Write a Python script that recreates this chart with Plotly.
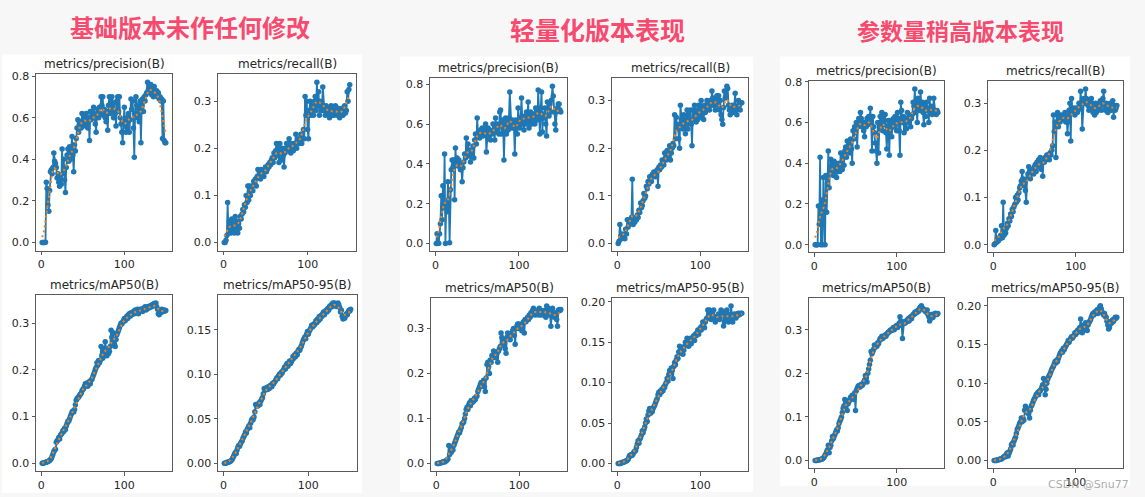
import numpy as np
import plotly.graph_objects as go

W, H = 1145, 497

# ---------------- data ----------------
group_titles = ["基础版本未作任何修改", "轻量化版本表现", "参数量稍高版本表现"]
metric_titles = ["metrics/precision(B)", "metrics/recall(B)", "metrics/mAP50(B)", "metrics/mAP50-95(B)"]
x_ticks = [0, 100]
x_tick_labels = ["0", "100"]

g1_precision = [
    0.0, 0.0, 0.0, 0.0, 0.001, 0.29, 0.26, 0.18, 0.15, 0.25,
    0.34, 0.35, 0.33, 0.36, 0.43, 0.39, 0.38, 0.36, 0.31, 0.33,
    0.29, 0.27, 0.31, 0.28, 0.45, 0.33, 0.40, 0.30, 0.24, 0.36,
    0.42, 0.45, 0.39, 0.46, 0.40, 0.44, 0.51, 0.42, 0.34, 0.47,
    0.44, 0.50, 0.55, 0.59, 0.53, 0.56, 0.58, 0.55, 0.62, 0.57,
    0.60, 0.61, 0.56, 0.62, 0.58, 0.55, 0.60, 0.49, 0.63, 0.59,
    0.63, 0.60, 0.65, 0.61, 0.57, 0.53, 0.62, 0.64, 0.60, 0.65,
    0.62, 0.70, 0.66, 0.70, 0.61, 0.64, 0.60, 0.58, 0.63, 0.54,
    0.66, 0.70, 0.62, 0.68, 0.70, 0.64, 0.60, 0.67, 0.62, 0.56,
    0.68, 0.70, 0.63, 0.70, 0.60, 0.57, 0.53, 0.48, 0.58, 0.65,
    0.56, 0.53, 0.60, 0.55, 0.62, 0.53, 0.59, 0.69, 0.64, 0.68,
    0.55, 0.41, 0.62, 0.70, 0.66, 0.60, 0.65, 0.58, 0.68, 0.48,
    0.66, 0.69, 0.63, 0.70, 0.68, 0.71, 0.72, 0.77, 0.73, 0.76,
    0.72, 0.76, 0.71, 0.74, 0.70, 0.75, 0.72, 0.71, 0.73, 0.70,
    0.72, 0.69, 0.70, 0.68, 0.69, 0.50, 0.68, 0.49, 0.48, 0.48,
]
g1_recall = [
    0.0, 0.0, 0.005, 0.015, 0.085, 0.02, 0.045, 0.03, 0.02, 0.05,
    0.025, 0.04, 0.02, 0.055, 0.03, 0.045, 0.02, 0.04, 0.03, 0.055,
    0.05, 0.06, 0.07, 0.065, 0.08, 0.075, 0.10, 0.085, 0.12, 0.09,
    0.12, 0.10, 0.115, 0.12, 0.11, 0.13, 0.125, 0.135, 0.12, 0.14,
    0.155, 0.14, 0.15, 0.135, 0.155, 0.145, 0.15, 0.14, 0.15, 0.16,
    0.15, 0.155, 0.165, 0.16, 0.17, 0.165, 0.175, 0.18, 0.17, 0.19,
    0.18, 0.195, 0.21, 0.185, 0.20, 0.17, 0.21, 0.19, 0.175, 0.20,
    0.185, 0.16, 0.19, 0.20, 0.21, 0.195, 0.20, 0.22, 0.205, 0.19,
    0.21, 0.20, 0.195, 0.21, 0.205, 0.23, 0.20, 0.21, 0.22, 0.21,
    0.215, 0.23, 0.21, 0.22, 0.24, 0.22, 0.31, 0.27, 0.30, 0.24,
    0.22, 0.28, 0.30, 0.27, 0.29, 0.28, 0.27, 0.30, 0.31, 0.28,
    0.34, 0.29, 0.32, 0.27, 0.30, 0.29, 0.28, 0.33, 0.29, 0.28,
    0.27, 0.29, 0.28, 0.275, 0.285, 0.265, 0.28, 0.29, 0.27, 0.285,
    0.27, 0.28, 0.29, 0.275, 0.27, 0.285, 0.28, 0.265, 0.28, 0.27,
    0.285, 0.27, 0.28, 0.29, 0.275, 0.28, 0.32, 0.30, 0.325, 0.335,
]
g1_map50 = [
    0.0, 0.0, 0.001, 0.001, 0.002, 0.002, 0.003, 0.004, 0.005, 0.006,
    0.008, 0.01, 0.015, 0.02, 0.025, 0.028, 0.03, 0.045, 0.048, 0.05,
    0.055, 0.052, 0.06, 0.062, 0.065, 0.07, 0.068, 0.075, 0.072, 0.08,
    0.085, 0.09, 0.09, 0.095, 0.10, 0.105, 0.11, 0.112, 0.11, 0.115,
    0.125, 0.135, 0.138, 0.14, 0.142, 0.145, 0.148, 0.15, 0.155, 0.158,
    0.16, 0.165, 0.17, 0.168, 0.172, 0.165, 0.17, 0.175, 0.17, 0.178,
    0.18, 0.185, 0.19, 0.195, 0.20, 0.205, 0.215, 0.21, 0.22, 0.215,
    0.22, 0.25, 0.23, 0.225, 0.245, 0.235, 0.26, 0.24, 0.23, 0.245,
    0.235, 0.24, 0.25, 0.285, 0.27, 0.28, 0.26, 0.255, 0.25, 0.265,
    0.275, 0.28, 0.285, 0.29, 0.295, 0.30, 0.298, 0.302, 0.305, 0.31,
    0.305, 0.31, 0.315, 0.31, 0.318, 0.32, 0.315, 0.322, 0.318, 0.32,
    0.325, 0.32, 0.328, 0.322, 0.325, 0.33, 0.32, 0.325, 0.33, 0.328,
    0.33, 0.325, 0.332, 0.33, 0.335, 0.328, 0.33, 0.335, 0.332, 0.336,
    0.334, 0.338, 0.335, 0.34, 0.338, 0.342, 0.34, 0.343, 0.335, 0.33,
    0.32, 0.318, 0.325, 0.322, 0.33, 0.328, 0.325, 0.328, 0.326, 0.327,
]
g1_map50_95 = [
    0.0, 0.0, 0.0, 0.001, 0.001, 0.001, 0.002, 0.002, 0.003, 0.004,
    0.006, 0.008, 0.01, 0.012, 0.011, 0.015, 0.018, 0.02, 0.019, 0.022,
    0.024, 0.025, 0.028, 0.03, 0.032, 0.035, 0.034, 0.038, 0.04, 0.042,
    0.04, 0.045, 0.048, 0.05, 0.049, 0.052, 0.058, 0.066, 0.065, 0.064,
    0.065, 0.068, 0.066, 0.07, 0.072, 0.074, 0.078, 0.084, 0.082, 0.084,
    0.085, 0.083, 0.086, 0.084, 0.087, 0.088, 0.086, 0.09, 0.089, 0.091,
    0.092, 0.094, 0.096, 0.095, 0.098, 0.1, 0.099, 0.102, 0.101, 0.104,
    0.105, 0.108, 0.106, 0.11, 0.112, 0.109, 0.113, 0.115, 0.112, 0.114,
    0.116, 0.12, 0.118, 0.122, 0.12, 0.124, 0.122, 0.126, 0.128, 0.127,
    0.13, 0.132, 0.135, 0.138, 0.14, 0.142, 0.14, 0.145, 0.148, 0.145,
    0.148, 0.15, 0.152, 0.155, 0.153, 0.156, 0.155, 0.158, 0.16, 0.158,
    0.162, 0.16, 0.165, 0.162, 0.166, 0.165, 0.168, 0.17, 0.167, 0.17,
    0.172, 0.17, 0.174, 0.172, 0.176, 0.175, 0.178, 0.176, 0.18, 0.178,
    0.18, 0.178, 0.176, 0.179, 0.18, 0.178, 0.175, 0.17, 0.172, 0.165,
    0.162, 0.165, 0.163, 0.166, 0.168, 0.167, 0.17, 0.172, 0.171, 0.173,
]

g2_precision = [
    0.0, 0.05, 0.0, 0.002, 0.05, 0.1, 0.24, 0.12, 0.29, 0.18,
    0.45, 0.0, 0.2, 0.16, 0.31, 0.22, 0.005, 0.27, 0.37, 0.42,
    0.38, 0.42, 0.22, 0.48, 0.40, 0.43, 0.39, 0.42, 0.40, 0.37,
    0.38, 0.31, 0.38, 0.41, 0.45, 0.43, 0.53, 0.45, 0.50, 0.44,
    0.47, 0.41, 0.46, 0.44, 0.49, 0.43, 0.52, 0.55, 0.50, 0.63,
    0.55, 0.56, 0.53, 0.57, 0.55, 0.58, 0.54, 0.57, 0.56, 0.60,
    0.46, 0.55, 0.58, 0.54, 0.57, 0.52, 0.56, 0.55, 0.60, 0.57,
    0.52, 0.63, 0.56, 0.60, 0.58, 0.55, 0.66, 0.67, 0.55, 0.62,
    0.60, 0.42, 0.58, 0.63, 0.55, 0.61, 0.57, 0.63, 0.76, 0.60,
    0.58, 0.62, 0.60, 0.58, 0.45, 0.62, 0.59, 0.55, 0.68, 0.60,
    0.58, 0.63, 0.73, 0.62, 0.60, 0.57, 0.64, 0.60, 0.66, 0.62,
    0.71, 0.58, 0.63, 0.66, 0.60, 0.64, 0.62, 0.65, 0.60, 0.68,
    0.66, 0.62, 0.77, 0.65, 0.55, 0.68, 0.76, 0.56, 0.65, 0.63,
    0.68, 0.60, 0.54, 0.71, 0.68, 0.64, 0.70, 0.66, 0.72, 0.79,
    0.74, 0.66, 0.60, 0.57, 0.66, 0.68, 0.70, 0.70, 0.67, 0.66,
]
g2_recall = [
    0.0, 0.005, 0.04, 0.015, 0.01, 0.02, 0.012, 0.018, 0.01, 0.03,
    0.02, 0.05, 0.035, 0.04, 0.05, 0.045, 0.055, 0.135, 0.04, 0.05,
    0.045, 0.055, 0.05, 0.06, 0.055, 0.07, 0.065, 0.085, 0.075, 0.08,
    0.09, 0.105, 0.095, 0.10, 0.12, 0.115, 0.13, 0.125, 0.14, 0.135,
    0.13, 0.145, 0.14, 0.15, 0.145, 0.14, 0.15, 0.155, 0.12, 0.16,
    0.155, 0.165, 0.16, 0.175, 0.17, 0.165, 0.19, 0.18, 0.175, 0.195,
    0.185, 0.18, 0.205, 0.175, 0.19, 0.2, 0.21, 0.205, 0.27, 0.22,
    0.265, 0.24, 0.25, 0.22, 0.20, 0.29, 0.26, 0.25, 0.24, 0.27,
    0.25, 0.23, 0.26, 0.28, 0.24, 0.27, 0.26, 0.28, 0.25, 0.205,
    0.28, 0.26, 0.29, 0.27, 0.255, 0.28, 0.26, 0.29, 0.265, 0.27,
    0.30, 0.27, 0.285, 0.26, 0.29, 0.275, 0.28, 0.30, 0.285, 0.29,
    0.28, 0.30, 0.29, 0.32, 0.305, 0.29, 0.295, 0.28, 0.30, 0.31,
    0.29, 0.31, 0.28, 0.30, 0.27, 0.26, 0.25, 0.285, 0.32, 0.305,
    0.31, 0.33, 0.325, 0.29, 0.28, 0.27, 0.285, 0.29, 0.275, 0.28,
    0.29, 0.315, 0.28, 0.27, 0.285, 0.30, 0.29, 0.28, 0.295, 0.295,
]
g2_map50 = [
    0.0, 0.0, 0.0, 0.001, 0.001, 0.002, 0.002, 0.003, 0.004, 0.003,
    0.005, 0.006, 0.008, 0.01, 0.04, 0.02, 0.03, 0.025, 0.032, 0.03,
    0.04, 0.045, 0.05, 0.055, 0.06, 0.065, 0.07, 0.068, 0.075, 0.08,
    0.088, 0.09, 0.092, 0.10, 0.11, 0.12, 0.125, 0.12, 0.13, 0.135,
    0.128, 0.14, 0.135, 0.14, 0.138, 0.145, 0.142, 0.148, 0.15, 0.16,
    0.165, 0.17, 0.175, 0.18, 0.172, 0.178, 0.185, 0.17, 0.16, 0.19,
    0.22, 0.225, 0.215, 0.20, 0.23, 0.225, 0.24, 0.235, 0.25, 0.245,
    0.24, 0.235, 0.245, 0.225, 0.25, 0.255, 0.26, 0.29, 0.28, 0.275,
    0.265, 0.27, 0.255, 0.245, 0.28, 0.29, 0.285, 0.28, 0.275, 0.285,
    0.29, 0.295, 0.30, 0.285, 0.265, 0.30, 0.305, 0.31, 0.30, 0.31,
    0.305, 0.30, 0.295, 0.31, 0.315, 0.29, 0.32, 0.315, 0.32, 0.325,
    0.32, 0.33, 0.325, 0.335, 0.33, 0.34, 0.345, 0.335, 0.33, 0.34,
    0.335, 0.34, 0.33, 0.345, 0.335, 0.33, 0.34, 0.335, 0.33, 0.34,
    0.335, 0.325, 0.35, 0.34, 0.345, 0.335, 0.33, 0.305, 0.335, 0.345,
    0.33, 0.325, 0.335, 0.33, 0.32, 0.305, 0.34, 0.342, 0.34, 0.342,
]
g2_map50_95 = [
    0.0, 0.0, 0.0, 0.0, 0.001, 0.001, 0.001, 0.002, 0.002, 0.003,
    0.003, 0.004, 0.005, 0.008, 0.01, 0.009, 0.011, 0.01, 0.012, 0.014,
    0.015, 0.016, 0.02, 0.024, 0.028, 0.025, 0.03, 0.032, 0.035, 0.04,
    0.038, 0.042, 0.045, 0.05, 0.055, 0.052, 0.06, 0.065, 0.068, 0.062,
    0.066, 0.064, 0.068, 0.07, 0.072, 0.075, 0.078, 0.08, 0.085, 0.088,
    0.085, 0.09, 0.088, 0.092, 0.09, 0.095, 0.094, 0.098, 0.10, 0.105,
    0.102, 0.11, 0.115, 0.112, 0.118, 0.115, 0.105, 0.12, 0.125, 0.122,
    0.128, 0.132, 0.13, 0.138, 0.145, 0.14, 0.136, 0.142, 0.135, 0.14,
    0.145, 0.15, 0.148, 0.155, 0.152, 0.145, 0.15, 0.155, 0.148, 0.152,
    0.155, 0.158, 0.152, 0.16, 0.158, 0.162, 0.165, 0.16, 0.165, 0.168,
    0.165, 0.17, 0.175, 0.172, 0.168, 0.175, 0.178, 0.18, 0.19, 0.185,
    0.19, 0.182, 0.178, 0.185, 0.188, 0.19, 0.18, 0.175, 0.182, 0.178,
    0.18, 0.185, 0.178, 0.182, 0.19, 0.185, 0.188, 0.17, 0.175, 0.185,
    0.18, 0.19, 0.185, 0.175, 0.18, 0.183, 0.195, 0.178, 0.175, 0.18,
    0.185, 0.182, 0.18, 0.185, 0.183, 0.186, 0.184, 0.185, 0.186, 0.186,
]

g3_precision = [
    0.0, 0.0, 0.0, 0.0, 0.19, 0.1, 0.43, 0.0, 0.22, 0.0,
    0.33, 0.16, 0.0, 0.34, 0.16, 0.30, 0.46, 0.28, 0.36, 0.42,
    0.37, 0.40, 0.34, 0.41, 0.36, 0.40, 0.33, 0.38, 0.36, 0.40,
    0.36, 0.45, 0.40, 0.37, 0.44, 0.39, 0.46, 0.48, 0.43, 0.51,
    0.46, 0.50, 0.45, 0.52, 0.47, 0.40, 0.56, 0.52, 0.58, 0.55,
    0.60, 0.48, 0.58, 0.62, 0.60, 0.65, 0.62, 0.58, 0.60, 0.56,
    0.53, 0.60, 0.58, 0.62, 0.59, 0.63, 0.61, 0.67, 0.60, 0.46,
    0.63, 0.58, 0.55, 0.50, 0.46, 0.40, 0.60, 0.45, 0.58, 0.63,
    0.60, 0.65, 0.56, 0.62, 0.59, 0.64, 0.55, 0.47, 0.58, 0.61,
    0.44, 0.61, 0.57, 0.53, 0.60, 0.62, 0.58, 0.63, 0.60, 0.56,
    0.65, 0.62, 0.56, 0.44, 0.70, 0.66, 0.60, 0.63, 0.55, 0.60,
    0.62, 0.57, 0.65, 0.61, 0.60, 0.63, 0.58, 0.62, 0.64, 0.70,
    0.68, 0.765, 0.65, 0.70, 0.60, 0.72, 0.68, 0.66, 0.75, 0.68,
    0.70, 0.65, 0.59, 0.68, 0.63, 0.70, 0.67, 0.66, 0.60, 0.72,
    0.65, 0.68, 0.64, 0.65, 0.72, 0.66, 0.65, 0.64, 0.66, 0.65,
]
g3_recall = [
    0.0, 0.002, 0.03, 0.005, 0.01, 0.008, 0.015, 0.012, 0.02, 0.04,
    0.015, 0.09, 0.02, 0.03, 0.025, 0.035, 0.045, 0.04, 0.055, 0.05,
    0.065, 0.06, 0.075, 0.07, 0.08, 0.085, 0.10, 0.09, 0.105, 0.095,
    0.11, 0.12, 0.125, 0.135, 0.155, 0.14, 0.125, 0.13, 0.115, 0.09,
    0.14, 0.15, 0.165, 0.155, 0.14, 0.15, 0.155, 0.16, 0.15, 0.165,
    0.17, 0.155, 0.175, 0.165, 0.18, 0.17, 0.185, 0.16, 0.175, 0.145,
    0.18, 0.175, 0.185, 0.18, 0.19, 0.185, 0.19, 0.18, 0.195, 0.19,
    0.20, 0.21, 0.275, 0.24, 0.26, 0.185, 0.275, 0.28, 0.25, 0.265,
    0.26, 0.275, 0.27, 0.265, 0.275, 0.27, 0.28, 0.26, 0.275, 0.235,
    0.26, 0.285, 0.30, 0.22, 0.31, 0.285, 0.28, 0.29, 0.275, 0.285,
    0.29, 0.28, 0.285, 0.30, 0.29, 0.325, 0.30, 0.245, 0.30, 0.31,
    0.30, 0.33, 0.31, 0.30, 0.295, 0.285, 0.305, 0.29, 0.31, 0.30,
    0.28, 0.29, 0.275, 0.30, 0.28, 0.295, 0.285, 0.30, 0.29, 0.305,
    0.285, 0.30, 0.31, 0.325, 0.295, 0.285, 0.30, 0.29, 0.28, 0.295,
    0.29, 0.30, 0.285, 0.29, 0.305, 0.27, 0.295, 0.285, 0.29, 0.295,
]
g3_map50 = [
    0.0, 0.0, 0.0, 0.001, 0.001, 0.002, 0.002, 0.003, 0.003, 0.004,
    0.006, 0.008, 0.012, 0.015, 0.02, 0.025, 0.035, 0.018, 0.03, 0.035,
    0.045, 0.055, 0.05, 0.055, 0.06, 0.065, 0.07, 0.068, 0.075, 0.085,
    0.09, 0.095, 0.10, 0.11, 0.12, 0.125, 0.14, 0.13, 0.135, 0.115,
    0.13, 0.135, 0.14, 0.145, 0.14, 0.15, 0.148, 0.14, 0.155, 0.115,
    0.16, 0.165, 0.17, 0.172, 0.168, 0.17, 0.175, 0.172, 0.175, 0.18,
    0.185, 0.195, 0.19, 0.18, 0.20, 0.21, 0.22, 0.23, 0.25, 0.245,
    0.25, 0.255, 0.265, 0.26, 0.265, 0.262, 0.27, 0.268, 0.275, 0.28,
    0.278, 0.285, 0.28, 0.282, 0.285, 0.288, 0.285, 0.29, 0.292, 0.295,
    0.295, 0.298, 0.30, 0.298, 0.302, 0.305, 0.30, 0.305, 0.308, 0.31,
    0.305, 0.31, 0.315, 0.33, 0.32, 0.31, 0.28, 0.315, 0.318, 0.315,
    0.32, 0.318, 0.322, 0.325, 0.32, 0.328, 0.33, 0.325, 0.332, 0.335,
    0.335, 0.34, 0.338, 0.342, 0.34, 0.345, 0.343, 0.35, 0.352, 0.355,
    0.35, 0.348, 0.345, 0.345, 0.342, 0.34, 0.345, 0.335, 0.33, 0.32,
    0.325, 0.335, 0.33, 0.328, 0.336, 0.334, 0.338, 0.336, 0.335, 0.337,
]
g3_map50_95 = [
    0.0, 0.0, 0.0, 0.0, 0.001, 0.001, 0.001, 0.002, 0.002, 0.002,
    0.003, 0.004, 0.005, 0.006, 0.005, 0.008, 0.01, 0.006, 0.009, 0.012,
    0.015, 0.02, 0.022, 0.02, 0.025, 0.028, 0.03, 0.035, 0.04, 0.042,
    0.045, 0.048, 0.05, 0.055, 0.05, 0.055, 0.052, 0.065, 0.07, 0.068,
    0.062, 0.065, 0.06, 0.055, 0.065, 0.07, 0.072, 0.075, 0.078, 0.08,
    0.082, 0.085, 0.086, 0.088, 0.085, 0.09, 0.09, 0.092, 0.095, 0.098,
    0.106, 0.098, 0.085, 0.092, 0.10, 0.105, 0.108, 0.11, 0.112, 0.115,
    0.118, 0.12, 0.122, 0.125, 0.128, 0.126, 0.13, 0.128, 0.132, 0.135,
    0.138, 0.14, 0.142, 0.14, 0.145, 0.143, 0.146, 0.148, 0.15, 0.152,
    0.155, 0.153, 0.156, 0.158, 0.16, 0.158, 0.16, 0.162, 0.165, 0.163,
    0.165, 0.168, 0.166, 0.17, 0.172, 0.183, 0.17, 0.165, 0.168, 0.175,
    0.172, 0.178, 0.17, 0.168, 0.175, 0.178, 0.18, 0.182, 0.185, 0.188,
    0.19, 0.188, 0.192, 0.19, 0.193, 0.195, 0.19, 0.195, 0.198, 0.20,
    0.196, 0.192, 0.19, 0.188, 0.19, 0.186, 0.185, 0.18, 0.175, 0.17,
    0.172, 0.176, 0.18, 0.178, 0.182, 0.18, 0.183, 0.185, 0.184, 0.185,
]

prec_ticks = [0.0, 0.2, 0.4, 0.6, 0.8]
tenth_ticks = [0.0, 0.1, 0.2, 0.3]
g1_map95_ticks = [0.0, 0.05, 0.10, 0.15]
g23_map95_ticks = [0.0, 0.05, 0.10, 0.15, 0.20]

# ---------------- layout geometry (pixels) ----------------
panels_px = [(2, 50, 362, 493), (400, 52, 753, 492), (780, 52, 1130, 486)]
title_px = [(190, 22, 24), (597, 24, 25), (960, 25, 23)]

# (series, title, (left, top, right, bottom), ticks, fmt)
subplots = [
    (g1_precision, metric_titles[0], (36, 70, 172, 248), prec_ticks, ".1f"),
    (g1_recall, metric_titles[1], (218, 70, 356, 248), tenth_ticks, ".1f"),
    (g1_map50, metric_titles[2], (36, 293, 172, 471), tenth_ticks, ".1f"),
    (g1_map50_95, metric_titles[3], (218, 293, 357, 471), g1_map95_ticks, ".2f"),
    (g2_precision, metric_titles[0], (430, 74, 567, 249), prec_ticks, ".1f"),
    (g2_recall, metric_titles[1], (612, 74, 748, 249), tenth_ticks, ".1f"),
    (g2_map50, metric_titles[2], (431, 296, 567, 471), tenth_ticks, ".1f"),
    (g2_map50_95, metric_titles[3], (612, 296, 748, 471), g23_map95_ticks, ".2f"),
    (g3_precision, metric_titles[0], (809, 77, 944, 250), prec_ticks, ".1f"),
    (g3_recall, metric_titles[1], (988, 77, 1123, 250), tenth_ticks, ".1f"),
    (g3_map50, metric_titles[2], (809, 296, 944, 468), tenth_ticks, ".1f"),
    (g3_map50_95, metric_titles[3], (988, 296, 1123, 468), g23_map95_ticks, ".2f"),
]


def gaussian_smooth(y, sigma=3.0, truncate=4.0):
    y = np.asarray(y, float)
    r = int(truncate * sigma + 0.5)
    k = np.arange(-r, r + 1)
    w = np.exp(-0.5 * (k / sigma) ** 2)
    w /= w.sum()
    yp = np.pad(y, r, mode="symmetric")
    return np.convolve(yp, w, mode="valid")


def px_x(v):
    return v / W


def px_y(v):
    return 1 - v / H


BLUE = "#1f77b4"
ORANGE = "#ff7f0e"
FRAME = "#5a5a5a"
TXT = "#262626"
FONT = "DejaVu Sans"

fig = go.Figure()
layout = dict(
    width=W, height=H, margin=dict(l=0, r=0, t=0, b=0),
    paper_bgcolor="#f7f7f7", plot_bgcolor="white", showlegend=False,
    font=dict(family=FONT, color=TXT, size=11),
)
shapes = []
annotations = []

for (l, t, r, b) in panels_px:
    shapes.append(dict(type="rect", xref="paper", yref="paper",
                       x0=px_x(l), x1=px_x(r), y0=px_y(b), y1=px_y(t),
                       fillcolor="white", line=dict(width=0), layer="below"))

for txt, (cx, cy, fs) in zip(group_titles, title_px):
    annotations.append(dict(text=f"<b>{txt}</b>", x=px_x(cx), y=px_y(cy), xref="paper", yref="paper",
                            showarrow=False, xanchor="center", yanchor="middle",
                            font=dict(family="Noto Sans CJK SC", size=fs, color="#f64a6f")))

for i, (ys, title, (l, t, r, b), ticks, fmt) in enumerate(subplots):
    n = i + 1
    sfx = "" if n == 1 else str(n)
    xs = list(range(1, len(ys) + 1))
    sm = gaussian_smooth(ys)
    fig.add_trace(go.Scatter(x=xs, y=ys, xaxis="x" + sfx, yaxis="y" + sfx, mode="lines+markers",
                             line=dict(color=BLUE, width=1.8), marker=dict(color=BLUE, size=5.5),
                             hoverinfo="skip"))
    fig.add_trace(go.Scatter(x=xs, y=sm, xaxis="x" + sfx, yaxis="y" + sfx, mode="lines",
                             line=dict(color=ORANGE, width=2, dash="2px,3px"), hoverinfo="skip"))
    xmin, xmax = min(xs), max(xs)
    xm = (xmax - xmin) * 0.05
    ymin, ymax = min(min(ys), sm.min()), max(max(ys), sm.max())
    ym = (ymax - ymin) * 0.05
    common = dict(showline=True, mirror=True, linecolor=FRAME, linewidth=1, ticks="outside",
                  ticklen=3.5, tickwidth=1, tickcolor=FRAME, showgrid=False, zeroline=False,
                  tickfont=dict(family=FONT, size=11, color=TXT))
    layout["xaxis" + sfx] = dict(domain=[px_x(l), px_x(r)], anchor="y" + sfx,
                                 range=[xmin - xm, xmax + xm], tickvals=x_ticks, ticktext=x_tick_labels,
                                 **common)
    layout["yaxis" + sfx] = dict(domain=[px_y(b), px_y(t)], anchor="x" + sfx,
                                 range=[ymin - ym, ymax + ym], tickvals=ticks, tickformat=fmt,
                                 **common)
    annotations.append(dict(text=title, x=px_x((l + r) / 2), y=px_y(t - 10), xref="paper", yref="paper",
                            showarrow=False, xanchor="center", yanchor="middle",
                            font=dict(family=FONT, size=12, color=TXT)))

annotations.append(dict(text="CSDN @Snu77", x=px_x(1131), y=px_y(484), xref="paper", yref="paper",
                        showarrow=False, xanchor="right", yanchor="middle",
                        font=dict(family=FONT, size=11, color="rgba(150,150,150,0.8)")))

layout["shapes"] = shapes
layout["annotations"] = annotations
fig.update_layout(**layout)

fig.write_html("out.html", config={"displayModeBar": False},
               post_script="document.body.style.margin='0';document.body.style.overflow='hidden';")
